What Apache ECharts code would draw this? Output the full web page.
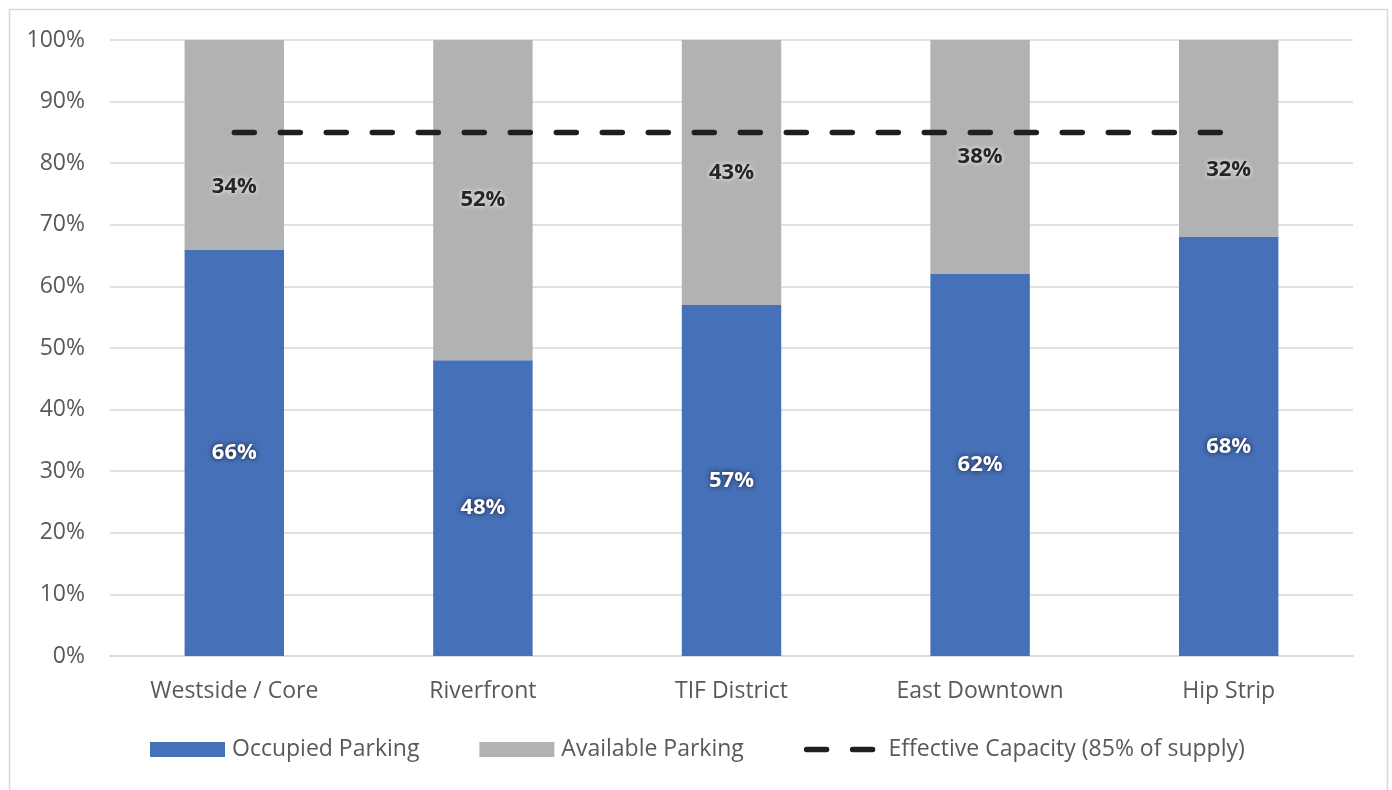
<!DOCTYPE html>
<html>
<head>
<meta charset="utf-8">
<script src="https://cdn.jsdelivr.net/npm/echarts@6/dist/echarts.min.js"></script>
<style>
  html, body { margin: 0; padding: 0; background: #ffffff; }
  #chart { width: 1392px; height: 790px; }
</style>
</head>
<body>
<div id="chart"></div>
<script>
// Parking occupancy by district (share of supply, %)
const districts = ['Westside / Core', 'Riverfront', 'TIF District', 'East Downtown', 'Hip Strip'];
const occupied = [66, 48, 57, 62, 68];
const available = [34, 52, 43, 38, 32];
const effectiveCapacity = [85, 85, 85, 85, 85];
const yTicks = [0, 10, 20, 30, 40, 50, 60, 70, 80, 90, 100];

// Vertical nudges for labels that would otherwise sit on the capacity line
const availableLabelShift = [42, 0, 0, 0, 31];

const FONT = '"Open Sans", Lato, sans-serif';
const TEXT_GREY = '#595959';
const DASH = { color: '#1f1f1f', width: 5.5, type: [20, 26], cap: 'round' };

const chart = echarts.init(document.getElementById('chart'), null, { renderer: 'canvas' });

chart.setOption({
  animation: false,
  backgroundColor: '#ffffff',
  textStyle: { fontFamily: FONT },
  graphic: [{
    type: 'rect',
    left: 7, top: 7,
    shape: { width: 1378, height: 800 },
    style: { fill: 'none', stroke: '#d9d9d9', lineWidth: 1.5 },
    silent: true
  }],
  grid: { left: 110, right: 39, top: 40, bottom: 134, containLabel: false },
  legend: {
    top: 733,
    left: 145,
    itemWidth: 75,
    itemHeight: 15,
    itemGap: 60,
    textStyle: { fontFamily: FONT, fontSize: 23, color: TEXT_GREY, padding: [0, 0, 0, 2] },
    data: [
      { name: 'Occupied Parking', icon: 'rect' },
      { name: 'Available Parking', icon: 'rect' },
      { name: 'Effective Capacity (85% of supply)', itemStyle: { opacity: 0 }, lineStyle: DASH }
    ]
  },
  xAxis: {
    type: 'category',
    data: districts,
    boundaryGap: true,
    axisLine: { show: true, lineStyle: { color: '#d9d9d9', width: 2 } },
    axisTick: { show: false },
    axisLabel: { fontFamily: FONT, fontSize: 23, color: TEXT_GREY, margin: 24 }
  },
  yAxis: {
    type: 'value',
    min: yTicks[0],
    max: yTicks[yTicks.length - 1],
    interval: 10,
    axisLine: { show: false },
    axisTick: { show: false },
    splitLine: { lineStyle: { color: '#d9d9d9', width: 1.5 } },
    axisLabel: {
      fontFamily: FONT, fontSize: 23, color: TEXT_GREY, margin: 25,
      formatter: v => v + '%'
    }
  },
  series: [
    {
      name: 'Occupied Parking',
      type: 'bar',
      stack: 'supply',
      barWidth: '40%',
      itemStyle: { color: '#4670B7' },
      label: {
        show: true,
        position: 'inside',
        formatter: p => p.value + '%',
        fontFamily: FONT,
        fontSize: 22,
        fontWeight: 'bold',
        color: '#ffffff',
        textShadowColor: 'rgba(20,20,40,0.9)',
        textShadowBlur: 5
      },
      data: occupied
    },
    {
      name: 'Available Parking',
      type: 'bar',
      stack: 'supply',
      barWidth: '40%',
      itemStyle: { color: '#B1B2B4' },
      label: {
        show: true,
        position: 'inside',
        formatter: p => p.value + '%',
        fontFamily: FONT,
        fontSize: 22,
        fontWeight: 'bold',
        color: '#262626',
        textShadowColor: 'rgba(255,255,255,0.95)',
        textShadowBlur: 5
      },
      data: available.map((v, i) => ({ value: v, label: { offset: [0, availableLabelShift[i]] } }))
    },
    {
      name: 'Effective Capacity (85% of supply)',
      type: 'line',
      symbol: 'none',
      z: 5,
      lineStyle: DASH,
      itemStyle: { color: '#1f1f1f' },
      data: effectiveCapacity
    }
  ]
});
</script>
</body>
</html>
